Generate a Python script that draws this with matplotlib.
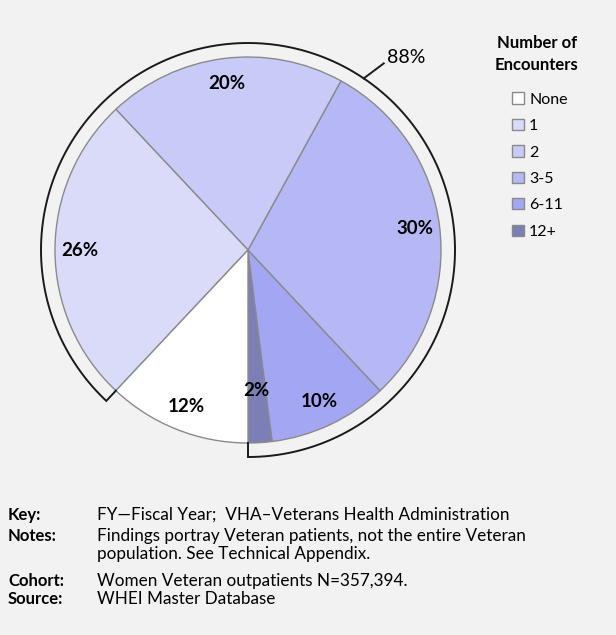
import numpy as np
import matplotlib
matplotlib.use("Agg")
import matplotlib.pyplot as plt

plt.rcParams['font.family'] = ['Lato', 'DejaVu Sans']

# data (counter-clockwise from 6 o'clock)
categories = ['12+', '6-11', '3-5', '2', '1', 'None']
shares = [2, 10, 30, 20, 26, 12]
colors = ['#7c7fb6', '#a3a7f3', '#b5b8f5', '#c8caf7', '#d9dbf9', '#ffffff']
legend_order = ['None', '1', '2', '3-5', '6-11', '12+']
bracket_label = '88%'
bracket_cats = ['12+', '6-11', '3-5', '2', '1']

footer_keys = ['Key:', 'Notes:', '', 'Cohort:', 'Source:']
footer_vals = ['FY\u2014Fiscal Year;  VHA\u2013Veterans Health Administration',
               'Findings portray Veteran patients, not the entire Veteran',
               'population. See Technical Appendix.',
               'Women Veteran outpatients N=357,394.',
               'WHEI Master Database']
footer_y = [515, 536, 554, 581, 599]

W, H = 616, 635
fig = plt.figure(figsize=(W / 100, H / 100), dpi=100, facecolor='#f2f2f2')
ax = fig.add_axes([0, 0, 1, 1])

cx, cy, r = 248, H - 250, 193

wedges, _ = ax.pie(shares, colors=colors, startangle=270, counterclock=True,
                   center=(cx, cy), radius=r, frame=True,
                   wedgeprops=dict(edgecolor='#8a8a8a', linewidth=1))
ax.set_xlim(0, W)
ax.set_ylim(0, H)
ax.set_aspect('equal')
ax.axis('off')

# percent labels
for w, v in zip(wedges, shares):
    mid = np.deg2rad((w.theta1 + w.theta2) / 2)
    d = 0.73 if v < 5 else 0.87
    ax.text(cx + d * r * np.cos(mid), cy + d * r * np.sin(mid), f'{v}%',
            ha='center', va='center', fontsize=13.5, fontweight='bold')

# bracket around the 88% group
sel = [w for w, c in zip(wedges, categories) if c in bracket_cats]
t0 = min(w.theta1 for w in sel)
t1 = max(w.theta2 for w in sel)
rb = 207
th = np.deg2rad(np.linspace(t0, t1, 400))
xs = np.r_[cx + r * np.cos(th[0]), cx + rb * np.cos(th), cx + r * np.cos(th[-1])]
ys = np.r_[cy + r * np.sin(th[0]), cy + rb * np.sin(th), cy + r * np.sin(th[-1])]
ax.plot(xs, ys, color='#1a1a1a', lw=1.4, solid_joinstyle='miter')

la = np.deg2rad(56)
x0, y0 = cx + rb * np.cos(la), cy + rb * np.sin(la)
ax.plot([x0, x0 + 20], [y0, y0 + 15], color='#1a1a1a', lw=1.4)
ax.text(x0 + 23, y0 + 21, bracket_label, ha='left', va='center', fontsize=14)

# legend
ax.text(537, H - 54, 'Number of\nEncounters', ha='center', va='center',
        fontsize=12, fontweight='bold', linespacing=1.45)
handles = [wedges[categories.index(c)] for c in legend_order]
ax.legend(handles, legend_order, loc='upper left',
          bbox_to_anchor=(498 / W, 1 - 78 / H),
          frameon=False, fontsize=11.5, handlelength=0.7, handleheight=0.7,
          handletextpad=0.35, labelspacing=0.77)

# footer
for k, v, y in zip(footer_keys, footer_vals, footer_y):
    ax.text(8, H - y, k, ha='left', va='center', fontsize=12, fontweight='bold')
    ax.text(97, H - y, v, ha='left', va='center', fontsize=12.3)

fig.savefig('out.png', dpi=100, facecolor=fig.get_facecolor())
